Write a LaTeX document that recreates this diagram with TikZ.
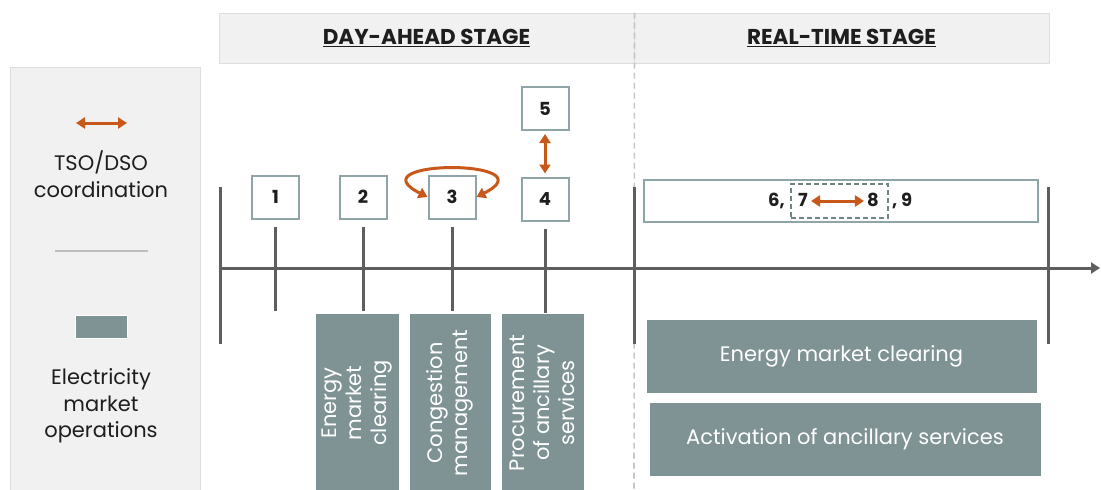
\documentclass[tikz,border=0pt]{standalone}
\usepackage{fontspec}
\setmainfont{Poppins}
\usetikzlibrary{calc,arrows.meta,positioning}
\definecolor{orng}{HTML}{C8581A}
\definecolor{opsgray}{HTML}{7F9294}
\definecolor{boxline}{HTML}{8FA4A6}
\definecolor{axisgray}{HTML}{5E5E5E}
\definecolor{panel}{HTML}{F1F1F1}
\definecolor{panelline}{HTML}{DEDEDE}
\definecolor{dashgray}{HTML}{C6C6C6}
\definecolor{ink}{HTML}{1E1E1E}

\begin{document}
\begin{tikzpicture}[x=1pt,y=-1pt,
  stagebox/.style={draw=boxline,line width=2pt,fill=white,minimum width=47pt,minimum height=43pt,inner sep=0pt,text=ink,font=\fontsize{18}{18}\selectfont\bfseries},
  digit/.style={inner sep=2pt,text height=13pt,text depth=2pt,text=ink,font=\fontsize{18}{18}\selectfont\bfseries},
  opsbox/.style={fill=opsgray,draw=white,line width=0.6pt,text=white,inner sep=0pt,align=center,font=\fontsize{21}{25}\selectfont},
  headbox/.style={fill=panel,draw=panelline,line width=1pt,minimum width=415pt,minimum height=50pt,text=ink,font=\fontsize{21.5}{21.5}\selectfont\bfseries},
  legtext/.style={align=center,text=ink,font=\fontsize{21}{26.5}\selectfont},
  coordarrow/.style={orng,line width=3pt,{Triangle[length=9pt,width=11pt]}-{Triangle[length=9pt,width=11pt]}},
  tick/.style={axisgray,line width=3pt}]
  \useasboundingbox (0,0) rectangle (1101,490);
  \node[draw=panelline,fill=panel,line width=1pt,minimum width=190pt,minimum height=440pt,anchor=north west,inner sep=0pt] (legend) at (10,67) {};
  \node[headbox] (hdDA) at (426.5,38) {\underline{DAY-AHEAD STAGE}};
  \node[headbox] (hdRT) at (841.5,38) {\underline{REAL-TIME STAGE}};
  \coordinate (divbot) at (634,495);
  \draw[dashgray,line width=1.6pt,dash pattern=on 6pt off 4pt] (hdDA.north east) -- (divbot);
  \coordinate (lgL) at (76,123);
  \coordinate (lgR) at (127,123);
  \draw[coordarrow] (lgL) -- (lgR);
  \node[legtext] (lgcoord) at (101,174) {TSO/DSO\\coordination};
  \coordinate (sepL) at (55,251);
  \coordinate (sepR) at (148,251);
  \draw[panelline!85!black,line width=1.5pt] (sepL) -- (sepR);
  \node[opsbox,minimum width=52pt,minimum height=23pt] (lgops) at (101,326.5) {};
  \node[legtext] (lgmarket) at (101,406) {Electricity\\market\\operations};
  \coordinate (axL) at (220,268);
  \coordinate (axR) at (1100,268);
  \draw[tick,-{Triangle[length=9pt,width=11pt]}] (axL) -- (axR);
  \foreach \x in {220,634,1048}
    \draw[tick] (\x,187) -- (\x,344);
  \node[stagebox] (n1) at (275.5,197) {1};
  \node[stagebox] (n2) at (363,197) {2};
  \node[stagebox] (n3) at (452,197) {3};
  \node[stagebox] (n4) at (545,199) {4};
  \node[stagebox] (n5) at (545,108.5) {5};
  \foreach \b in {n1,n2,n3,n4}
    \draw[tick] ($(\b.south)+(0,7)$) -- ($(\b.south)+(0,91)$);
  \draw[coordarrow,shorten <=3pt,shorten >=3pt] (n5) -- (n4);
  \draw[coordarrow] (n3.west) .. controls +(-75,-38) and +(75,-38) .. (n3.east);
  \node[draw=boxline,line width=1.5pt,fill=white,minimum width=394pt,minimum height=42pt,inner sep=0pt] (rtbox) at (841,201) {};
  \node[draw=boxline!80!black,line width=1.2pt,dash pattern=on 5pt off 3pt,minimum width=97pt,minimum height=34pt,inner sep=0pt] (pair) at (839.5,201) {};
  \node[digit] (n7) at (803,201) {7};
  \node[digit] (n8) at (873,201) {8};
  \node[digit,anchor=east] (n6) at (787,201) {6,};
  \node[digit,anchor=west] (n9) at (890,201) {, 9};
  \draw[coordarrow,shorten <=1pt,shorten >=1pt] (n7) -- (n8);
  \node[opsbox,rotate=90,minimum width=180pt,minimum height=84pt] (opsA) at (357,403) {Energy\\market\\clearing};
  \node[opsbox,rotate=90,minimum width=180pt,minimum height=82pt] (opsB) at (450,403) {Congestion\\management};
  \node[opsbox,rotate=90,minimum width=180pt,minimum height=83pt] (opsC) at (542.5,403) {Procurement\\of ancillary\\services};
  \node[opsbox,minimum width=391pt,minimum height=74pt] (opsD) at (841.5,356) {Energy market clearing};
  \node[opsbox,minimum width=392pt,minimum height=74pt] (opsE) at (845,439) {Activation of ancillary services};
\end{tikzpicture}
\end{document}
